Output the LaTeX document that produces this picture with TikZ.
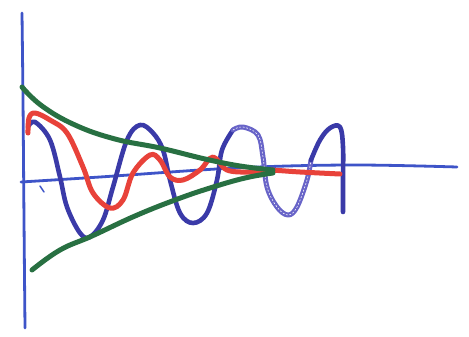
\documentclass[tikz,border=0pt]{standalone}
\begin{document}
\begin{tikzpicture}[x=1pt,y=-1pt,line cap=round,line join=round,
  axisline/.style={draw=axisblue,line width=2.8pt},
  wave/.style={draw=waveblue,line width=4.6pt},
  lobe/.style={draw=lobeblue,line width=5pt},
  dampred/.style={draw=penred,line width=5pt},
  envgreen/.style={draw=pengreen,line width=5pt}]
\definecolor{axisblue}{RGB}{62,84,200}
\definecolor{waveblue}{RGB}{58,58,168}
\definecolor{lobeblue}{RGB}{104,100,200}
\definecolor{penred}{RGB}{232,66,58}
\definecolor{pengreen}{RGB}{40,112,66}
\fill[white] (0,0) rectangle (469,337);
\useasboundingbox (0,0) rectangle (469,337);
% axes
\draw[axisline] plot[smooth,tension=0.6] coordinates {(22,13) (23,100) (24,220) (25,328)};
\draw[axisline] plot[smooth,tension=0.6] coordinates {(21,182) (100,177) (235,168) (350,165) (457,167)};
\draw[axisblue,line width=1.5pt] (40,186) -- (44,192);
% blue wave
\draw[wave] plot[smooth,tension=0.6] coordinates {(28,127) (35,122) (50,140) (60,177) (67,207) (80,233) (90,237) (103,220) (113,187) (127,140) (140,125) (153,133) (163,150) (170,180) (180,213) (193,223) (207,213) (217,180) (222,150) (233,130)};
\draw[lobe] plot[smooth,tension=0.6] coordinates {(233,130) (243,127) (258,135) (263,157) (267,187) (277,207) (288,215) (297,207) (307,180) (311,160)};
\draw[white,line width=0.6pt,dash pattern=on 1.5pt off 2pt] plot[smooth,tension=0.6] coordinates {(233,130) (243,127) (258,135) (263,157) (267,187) (277,207) (288,215) (297,207) (307,180) (311,160)};
\draw[wave] plot[smooth,tension=0.6] coordinates {(311,160) (320,140) (330,128) (340,127) (343,147) (343,180) (343,212)};
% red damped wave
\draw[dampred] plot[smooth,tension=0.6] coordinates {(28,133) (29,118) (35,113) (50,120) (67,133) (83,167) (93,193) (110,208) (123,200) (133,173) (150,155) (160,160) (170,177) (183,180) (200,170) (213,157) (227,170) (250,172) (267,170) (300,172) (340,174)};
% green envelope
\draw[envgreen] plot[smooth,tension=0.7] coordinates {(22,87) (42,106) (75,125) (115,139) (160,148) (205,159) (240,166) (273,170)};
\draw[envgreen] plot[smooth,tension=0.7] coordinates {(32,270) (60,250) (92,236) (135,216) (175,200) (210,188) (245,178) (273,173)};
\end{tikzpicture}
\end{document}
